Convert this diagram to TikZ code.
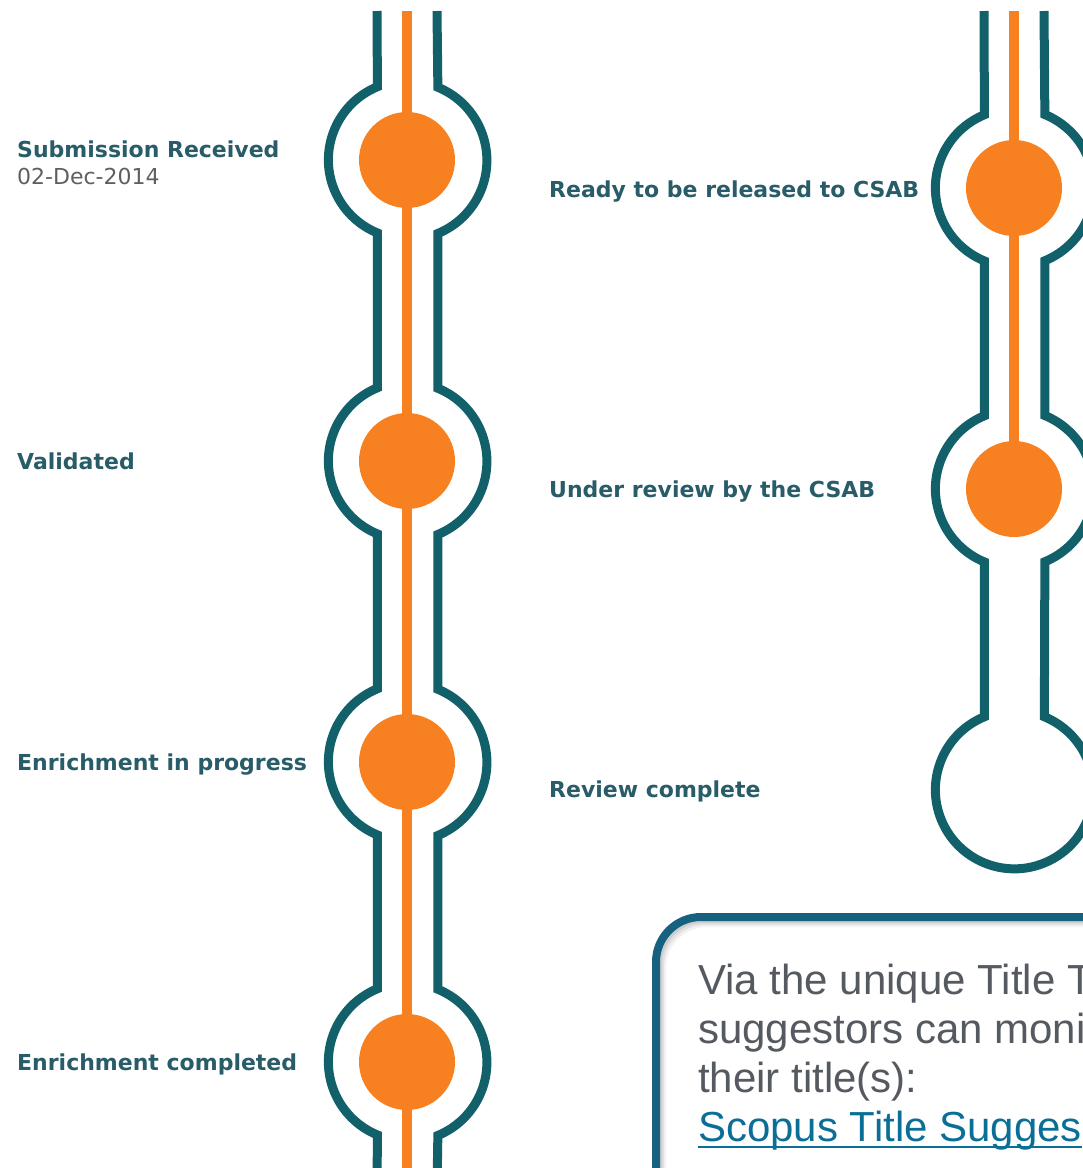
\documentclass[tikz,border=0pt]{standalone}
\usepackage{fontspec}
\newfontfamily\labelfont{DejaVu Sans}
\newfontfamily\boxfont{Liberation Sans}
\definecolor{tubeteal}{RGB}{18,96,106}
\definecolor{spineorange}{RGB}{247,128,32}
\definecolor{labelteal}{RGB}{40,92,104}
\definecolor{dategray}{RGB}{95,95,95}
\definecolor{boxblue}{RGB}{23,97,128}
\definecolor{boxgray}{RGB}{85,89,96}
\definecolor{linkblue}{RGB}{10,110,150}
\tikzset{
  station/.style={circle, draw=none, minimum size=158pt, inner sep=0pt, outer sep=0pt},
  tube/.style={draw=tubeteal, line width=9pt, line join=miter},
  spine/.style={draw=spineorange, line width=10pt},
  dot/.style={fill=spineorange},
  lbl/.style={anchor=base west, inner sep=0pt, text=labelteal,
              font=\labelfont\bfseries\fontsize{22}{26}\selectfont},
  datelbl/.style={anchor=base west, inner sep=0pt, text=dategray,
              font=\labelfont\fontsize{22}{26}\selectfont},
  boxtext/.style={anchor=base west, inner sep=0pt, text=boxgray,
              font=\boxfont\fontsize{42}{48}\selectfont},
  boxline/.style={draw=boxblue, line width=8pt, rounded corners=45pt},
}
\begin{document}
\begin{tikzpicture}[x=1pt,y=1pt]
\useasboundingbox (0,0) rectangle (1083,-1168);
\clip (0,0) rectangle (1083,-1168);

% stations of the left track
\node[station] (L1) at (407,-160) {};
\node[station] (L2) at (407,-461) {};
\node[station] (L3) at (407,-762) {};
\node[station] (L4) at (407,-1062) {};
% stations of the right track
\node[station] (R1) at (1014,-188) {};
\node[station] (R2) at (1014,-489) {};
\node[station] (R3) at (1014,-790) {};

% free ends of the tracks
\coordinate (LtopL) at (377,-11);
\coordinate (LtopR) at (437,-11);
\coordinate (LbotL) at (377,-1190);
\coordinate (LbotR) at (437,-1190);
\coordinate (Ltop) at (407,-11);
\coordinate (Lbot) at (407,-1190);
\coordinate (RtopL) at (984,-11);
\coordinate (RtopR) at (1044,-11);
\coordinate (Rtop) at (1014,-11);

% left track walls
\draw[tube] (LtopL) -- (L1.112.3) arc[start angle=112.3, end angle=247.7, radius=79pt]
  -- (L2.112.3) arc[start angle=112.3, end angle=247.7, radius=79pt]
  -- (L3.112.3) arc[start angle=112.3, end angle=247.7, radius=79pt]
  -- (L4.112.3) arc[start angle=112.3, end angle=247.7, radius=79pt]
  -- (LbotL);
\draw[tube] (LtopR) -- (L1.67.7) arc[start angle=67.7, end angle=-67.7, radius=79pt]
  -- (L2.67.7) arc[start angle=67.7, end angle=-67.7, radius=79pt]
  -- (L3.67.7) arc[start angle=67.7, end angle=-67.7, radius=79pt]
  -- (L4.67.7) arc[start angle=67.7, end angle=-67.7, radius=79pt]
  -- (LbotR);

% right track walls, closed round the last station
\draw[tube] (RtopL) -- (R1.112.3) arc[start angle=112.3, end angle=247.7, radius=79pt]
  -- (R2.112.3) arc[start angle=112.3, end angle=247.7, radius=79pt]
  -- (R3.112.3) arc[start angle=112.3, end angle=427.7, radius=79pt]
  -- (R2.-67.7) arc[start angle=-67.7, end angle=67.7, radius=79pt]
  -- (R1.-67.7) arc[start angle=-67.7, end angle=67.7, radius=79pt]
  -- (RtopR);

% orange progress lines
\draw[spine] (Ltop) -- (L1.center) -- (L2.center) -- (L3.center) -- (L4.center) -- (Lbot);
\draw[spine] (Rtop) -- (R1.center) -- (R2.center);

% completed stations
\foreach \s in {L1,L2,L3,L4,R1,R2}
  \fill[dot] (\s.center) circle[radius=48pt];

% station labels
\node[lbl] (t1) at (17,-157) {Submission Received};
\node[datelbl] (d1) at (17,-184) {02-Dec-2014};
\node[lbl] (t2) at (17,-469) {Validated};
\node[lbl] (t3) at (17,-770) {Enrichment in progress};
\node[lbl] (t4) at (17,-1070) {Enrichment completed};
\node[lbl] (t5) at (549,-197) {Ready to be released to CSAB};
\node[lbl] (t6) at (549,-497) {Under review by the CSAB};
\node[lbl] (t7) at (549,-797) {Review complete};

% call-out box with soft shadow
\foreach \o/\a in {6/0.05,4/0.07,2/0.09}
  \draw[draw=black, draw opacity=\a, line width=8pt, rounded corners=45pt]
    (656+\o,-1200) -- (656+\o,-917-\o) -- (1200,-917-\o);
\draw[boxline] (656,-1200) -- (656,-917) -- (1200,-917);

\node[boxtext] (m1) at (698,-994) {Via the unique Title T};
\node[boxtext] (m2) at (698,-1043) {suggestors can moni};
\node[boxtext] (m3) at (698,-1092) {their title(s):};
\node[boxtext, text=linkblue] (m4) at (698,-1141) {Scopus Title Sugges};
\draw[linkblue, line width=2.5pt] ([yshift=-6pt]m4.base west) -- ([yshift=-6pt]m4.base east);
\end{tikzpicture}
\end{document}
